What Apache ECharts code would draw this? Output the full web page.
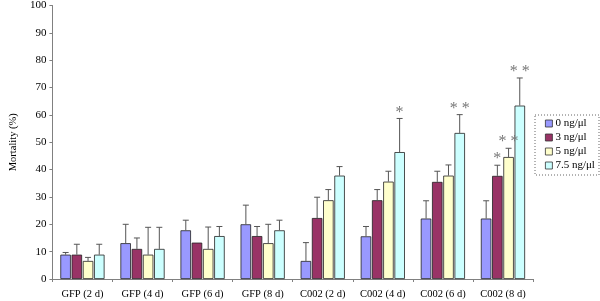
<!DOCTYPE html>
<html>
<head>
<meta charset="utf-8">
<script src="https://cdn.jsdelivr.net/npm/echarts@6/dist/echarts.min.js"></script>
<style>
html,body{margin:0;padding:0;background:#fff;}
#main{width:600px;height:301px;}
</style>
</head>
<body>
<div id="main"></div>
<script>
// 组别
var categories = ['GFP (2 d)','GFP (4 d)','GFP (6 d)','GFP (8 d)','C002 (2 d)','C002 (4 d)','C002 (6 d)','C002 (8 d)'];
var seriesNames = ['0 ng/\u03bcl','3 ng/\u03bcl','5 ng/\u03bcl','7.5 ng/\u03bcl'];
var colors = ['#9999ff','#993366','#ffffcc','#ccffff'];

// 死亡率均值
var dose0 = [8.9, 13.1, 17.8, 20.0, 6.6, 15.6, 22.1, 22.1];
var dose3 = [8.9, 11.0, 13.3, 15.7, 22.3, 28.8, 35.5, 37.7];
var dose5 = [6.6, 8.9, 11.0, 13.1, 28.8, 35.6, 37.8, 44.6];
var dose75 = [8.9, 11.0, 15.7, 17.8, 37.8, 46.4, 53.4, 63.4];

// 误差线顶端
var err0 = [9.7, 20.0, 21.5, 27.0, 13.3, 19.2, 28.6, 28.6];
var err3 = [12.7, 15.0, 13.3, 19.2, 29.9, 32.7, 39.4, 41.6];
var err5 = [7.9, 18.9, 19.0, 20.0, 32.7, 39.4, 41.7, 47.8];
var err75 = [12.7, 18.9, 19.2, 21.5, 41.1, 58.7, 60.1, 73.5];

// 显著性标记
var star0 = ['','','','','','','',''];
var star3 = ['','','','','','','','*'];
var star5 = ['','','','','','','','**'];
var star75 = ['','','','','','*','**','**'];

var means = [dose0, dose3, dose5, dose75];
var errs = [err0, err3, err5, err75];
var stars = [star0, star3, star5, star75];

var yTicks = [0,10,20,30,40,50,60,70,80,90,100];

var chart = echarts.init(document.getElementById('main'));

var BAR_W = 10.5, STEP = 11.2;

var series = [];
for (var s = 0; s < 4; s++) {
    series.push({
        name: seriesNames[s],
        type: 'bar',
        data: means[s],
        barWidth: BAR_W,
        barGap: '7%',
        itemStyle: {color: colors[s], borderColor: '#222', borderWidth: 0.8},
        z: 2
    });
}
for (var s2 = 0; s2 < 4; s2++) {
    (function(k){
        var d = [];
        for (var i = 0; i < categories.length; i++) {
            d.push([i, means[k][i], errs[k][i], stars[k][i]]);
        }
        series.push({
            type: 'custom',
            data: d,
            z: 3,
            silent: true,
            renderItem: function(params, api){
                var i = api.value(0);
                var base = api.coord([i, api.value(1)]);
                var top = api.coord([i, api.value(2)]);
                var x = base[0] + (k - 1.5) * STEP;
                var children = [];
                if (api.value(2) > api.value(1)) {
                    children.push({type:'line', shape:{x1:x,y1:base[1],x2:x,y2:top[1]}, style:{stroke:'#555',lineWidth:1}});
                    children.push({type:'line', shape:{x1:x-3,y1:top[1],x2:x+3,y2:top[1]}, style:{stroke:'#555',lineWidth:1}});
                }
                var st = d[params.dataIndex][3];
                if (st) {
                    children.push({type:'text', x:x, y:top[1]+2, style:{text: st.split('').join(' '), fill:'#777', font:'16px "Liberation Serif"', align:'center', verticalAlign:'bottom'}});
                }
                return {type:'group', children:children};
            }
        });
    })(s2);
}

var option = {
    animation: false,
    backgroundColor: '#fff',
    grid: {left: 39, right: 67, top: 5, bottom: 22},
    legend: {
        data: seriesNames,
        orient: 'vertical',
        left: 545,
        top: 118,
        itemWidth: 7,
        itemHeight: 7,
        itemGap: 3,
        icon: 'rect',
        padding: 0,
        textStyle: {fontFamily: 'Liberation Serif', fontSize: 11, lineHeight: 11, color: '#000', padding: [0,0,0,-2]},
        itemStyle: {borderColor: '#333', borderWidth: 0.8}
    },
    graphic: [{
        type: 'rect',
        shape: {x: 535, y: 115, width: 64, height: 60},
        style: {fill: 'none', stroke: '#666', lineWidth: 1, lineDash: [1,2]}
    }],
    xAxis: {
        type: 'category',
        data: categories,
        axisLine: {lineStyle: {color: '#808080', width: 1}},
        axisTick: {show: true, length: 3, inside: false, lineStyle: {color: '#808080'}},
        axisLabel: {fontFamily: 'Liberation Serif', fontSize: 10.5, color: '#000', margin: 10, interval: 0}
    },
    yAxis: {
        type: 'value',
        min: yTicks[0],
        max: yTicks[yTicks.length-1],
        interval: 10,
        name: 'Mortality (%)',
        nameLocation: 'middle',
        nameGap: 32,
        nameTextStyle: {fontFamily: 'Liberation Serif', fontSize: 10.5, color: '#000'},
        axisLine: {show: true, lineStyle: {color: '#808080', width: 1}},
        axisTick: {show: true, length: 3, lineStyle: {color: '#808080'}},
        splitLine: {show: false},
        axisLabel: {fontFamily: 'Liberation Serif', fontSize: 11, color: '#000', margin: 6}
    },
    series: series
};

chart.setOption(option);
</script>
</body>
</html>
